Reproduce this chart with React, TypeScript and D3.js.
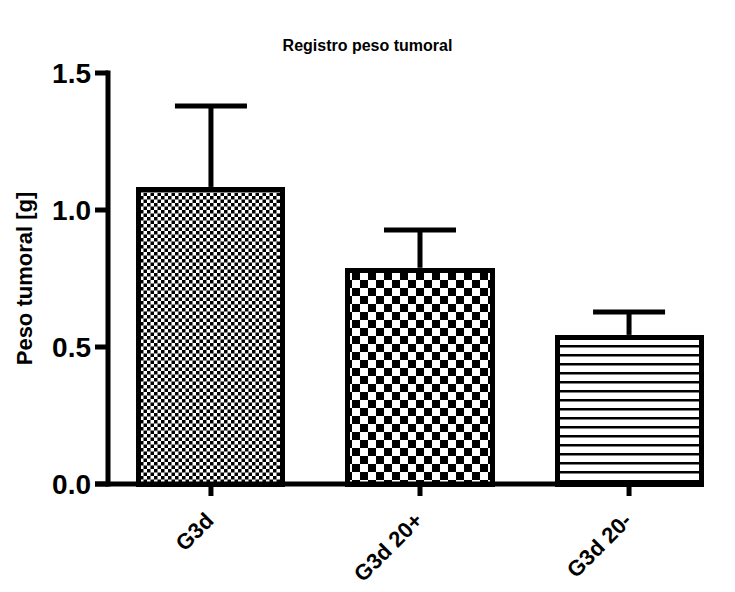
import React, { useRef, useEffect } from 'react';
import * as d3 from 'd3';

const groups = ['G3d', 'G3d 20+', 'G3d 20-'];
const means = [1.075, 0.78, 0.535];
const sems = [0.305, 0.147, 0.093];
const yTicks = [0.0, 0.5, 1.0, 1.5];
const patterns = ['fineCheck', 'bigCheck', 'hLines'];

const App = () => {
  const ref = useRef<SVGSVGElement>(null);

  useEffect(() => {
    const svg = d3.select(ref.current);
    svg.selectAll('*').remove();

    const width = 735;
    const font = '"Liberation Sans", Arial, Helvetica, sans-serif';
    const axisX = 108;
    const baseY = 484;

    const defs = svg.append('defs');

    // fine checkerboard
    const p1 = defs.append('pattern')
      .attr('id', 'fineCheck')
      .attr('patternUnits', 'userSpaceOnUse')
      .attr('width', 7).attr('height', 7);
    p1.append('rect').attr('width', 7).attr('height', 7).attr('fill', 'white');
    p1.append('rect').attr('width', 3.5).attr('height', 3.5).attr('fill', 'black');
    p1.append('rect').attr('x', 3.5).attr('y', 3.5).attr('width', 3.5).attr('height', 3.5).attr('fill', 'black');

    // coarse checkerboard
    const p2 = defs.append('pattern')
      .attr('id', 'bigCheck')
      .attr('patternUnits', 'userSpaceOnUse')
      .attr('width', 16).attr('height', 16);
    p2.append('rect').attr('width', 16).attr('height', 16).attr('fill', 'white');
    p2.append('rect').attr('width', 8).attr('height', 8).attr('fill', 'black');
    p2.append('rect').attr('x', 8).attr('y', 8).attr('width', 8).attr('height', 8).attr('fill', 'black');

    // horizontal lines
    const p3 = defs.append('pattern')
      .attr('id', 'hLines')
      .attr('patternUnits', 'userSpaceOnUse')
      .attr('width', 9).attr('height', 9);
    p3.append('rect').attr('width', 9).attr('height', 9).attr('fill', 'white');
    p3.append('rect').attr('y', 3).attr('width', 9).attr('height', 2.5).attr('fill', 'black');

    const x = d3.scaleBand()
      .domain(groups)
      .range([axisX, 732])
      .paddingInner(0.311)
      .paddingOuter(0.148);

    const y = d3.scaleLinear()
      .domain([0, 1.5])
      .range([baseY, 73]);

    // bars
    svg.append('g')
      .selectAll('rect')
      .data(groups)
      .enter()
      .append('rect')
      .attr('x', d => x(d)!)
      .attr('y', (d, i) => y(means[i]))
      .attr('width', x.bandwidth())
      .attr('height', (d, i) => baseY - y(means[i]))
      .attr('fill', (d, i) => `url(#${patterns[i]})`)
      .attr('stroke', 'black')
      .attr('stroke-width', 5)
      .attr('shape-rendering', 'crispEdges');

    // error bars (upper only)
    const err = svg.append('g').attr('stroke', 'black').attr('stroke-width', 5);
    groups.forEach((g, i) => {
      const cx = x(g)! + x.bandwidth() / 2;
      err.append('line')
        .attr('x1', cx).attr('x2', cx)
        .attr('y1', y(means[i]) - 2.5)
        .attr('y2', y(means[i] + sems[i]));
      err.append('line')
        .attr('x1', cx - x.bandwidth() / 4).attr('x2', cx + x.bandwidth() / 4)
        .attr('y1', y(means[i] + sems[i]))
        .attr('y2', y(means[i] + sems[i]));
    });

    // y axis
    const yAxis = svg.append('g');
    yAxis.append('line')
      .attr('x1', axisX).attr('x2', axisX)
      .attr('y1', y(1.5) - 2.5).attr('y2', baseY + 2.5)
      .attr('stroke', 'black').attr('stroke-width', 5);
    yTicks.forEach(t => {
      yAxis.append('line')
        .attr('x1', axisX - 13).attr('x2', axisX)
        .attr('y1', y(t)).attr('y2', y(t))
        .attr('stroke', 'black').attr('stroke-width', 5);
      yAxis.append('text')
        .attr('x', 91)
        .attr('y', y(t))
        .attr('dy', '0.36em')
        .attr('text-anchor', 'end')
        .attr('font-family', font)
        .attr('font-weight', 'bold')
        .attr('font-size', 28)
        .text(d3.format('.1f')(t));
    });

    // x axis
    const xAxis = svg.append('g');
    xAxis.append('line')
      .attr('x1', axisX - 13).attr('x2', x(groups[2])! + x.bandwidth() + 2.5)
      .attr('y1', baseY).attr('y2', baseY)
      .attr('stroke', 'black').attr('stroke-width', 5);
    groups.forEach(g => {
      const cx = x(g)! + x.bandwidth() / 2;
      xAxis.append('line')
        .attr('x1', cx).attr('x2', cx)
        .attr('y1', baseY).attr('y2', baseY + 12)
        .attr('stroke', 'black').attr('stroke-width', 5);
      xAxis.append('text')
        .attr('transform', `translate(${cx + 4},${baseY + 38}) rotate(-45)`)
        .attr('text-anchor', 'end')
        .attr('font-family', font)
        .attr('font-weight', 'bold')
        .attr('font-size', 22)
        .text(g);
    });

    // titles
    svg.append('text')
      .attr('x', width / 2)
      .attr('y', 51)
      .attr('text-anchor', 'middle')
      .attr('font-family', font)
      .attr('font-weight', 'bold')
      .attr('font-size', 16)
      .text('Registro peso tumoral');

    svg.append('text')
      .attr('transform', `translate(32,${(y(1.5) + baseY) / 2}) rotate(-90)`)
      .attr('text-anchor', 'middle')
      .attr('font-family', font)
      .attr('font-weight', 'bold')
      .attr('font-size', 22)
      .text('Peso tumoral [g]');
  }, []);

  return (
    <svg
      ref={ref}
      width={735}
      height={592}
      style={{ position: 'absolute', left: 0, top: 0, background: 'white' }}
    />
  );
};

export default App;
